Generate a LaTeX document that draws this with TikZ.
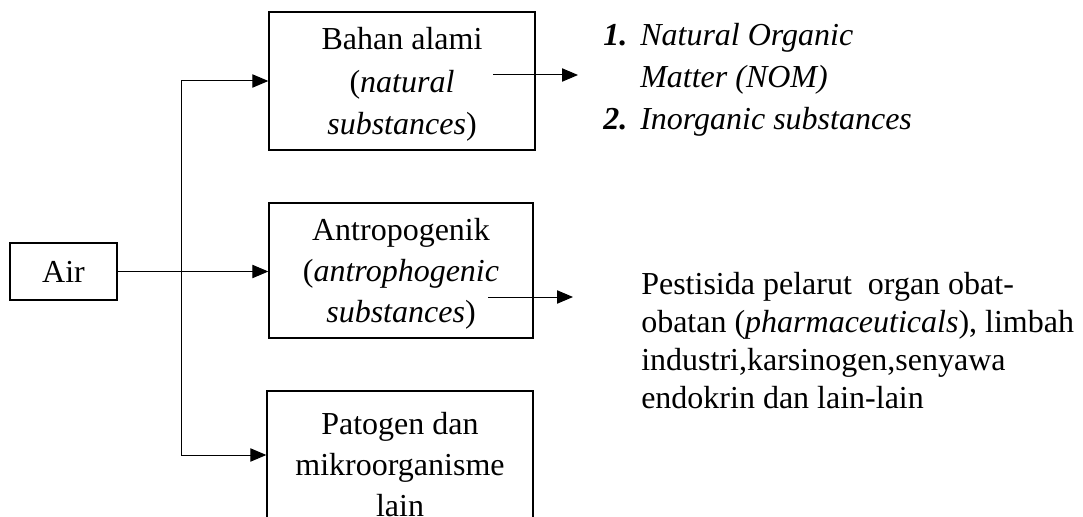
\documentclass[tikz,border=0pt]{standalone}
\usepackage{fontspec}
\setmainfont{Liberation Serif}
\usetikzlibrary{arrows.meta}
\tikzset{
  srcbox/.style={draw,line width=1pt,inner sep=0pt,align=center,
    font=\fontsize{24}{30.75}\selectfont},
  flow/.style={line width=0.75pt,-{Triangle[length=12pt,width=10pt]}},
  sidetext/.style={anchor=west,inner sep=0pt,align=left},
}

\begin{document}
\begin{tikzpicture}[x=0.75pt,y=-0.75pt]
  \useasboundingbox (0,0) rectangle (1083,517);

  % Source and the three groups of substances.
  \node[srcbox,minimum width=80.25pt,minimum height=42.75pt] (air) at (63.5,271.5) {Air};
  \node[srcbox,minimum width=199.5pt,minimum height=103.5pt,
        font=\fontsize{24}{32}\selectfont,text depth=-10pt] (natural) at (402,81)
    {Bahan alami\\(\textit{natural}\\\textit{substances})};
  \node[srcbox,minimum width=198pt,minimum height=101.25pt,text depth=-6pt] (anthro) at (401,270.5)
    {Antropogenik\\(\textit{antrophogenic}\\\textit{substances})};
  \node[srcbox,minimum width=199.5pt,minimum height=111pt] (patho) at (400,465)
    {Patogen dan\\mikroorganisme\\lain};

  % Branching from Air.
  \coordinate (fork) at (181,272);
  \coordinate (low) at (181,455);
  \draw[flow] (air.east) -- (air.east -| anthro.west);
  \draw[flow] (fork) |- (natural.west);
  \draw[flow] (fork) -- (low) -- (low -| patho.west);

  % Examples for each group.
  \coordinate (natout) at (493,75);
  \coordinate (natend) at (578,75);
  \coordinate (antout) at (488,297);
  \coordinate (antend) at (573,297);
  \draw[flow] (natout) -- (natend);
  \draw[flow] (antout) -- (antend);

  \node[sidetext,font=\fontsize{24}{31.5}\selectfont\itshape] (natlist) at (603,79.5)
    {\makebox[27.75pt][l]{\textbf{1.}}Natural Organic\\
     \hspace*{27.75pt}Matter (NOM)\\
     \makebox[27.75pt][l]{\textbf{2.}}Inorganic substances};
  \node[sidetext,font=\fontsize{24}{28.5}\selectfont] (antlist) at (641,341)
    {Pestisida pelarut\ \ organ obat-\\
     obatan (\textit{pharmaceuticals}), limbah\\
     industri,karsinogen,senyawa\\
     endokrin dan lain-lain};
\end{tikzpicture}
\end{document}
